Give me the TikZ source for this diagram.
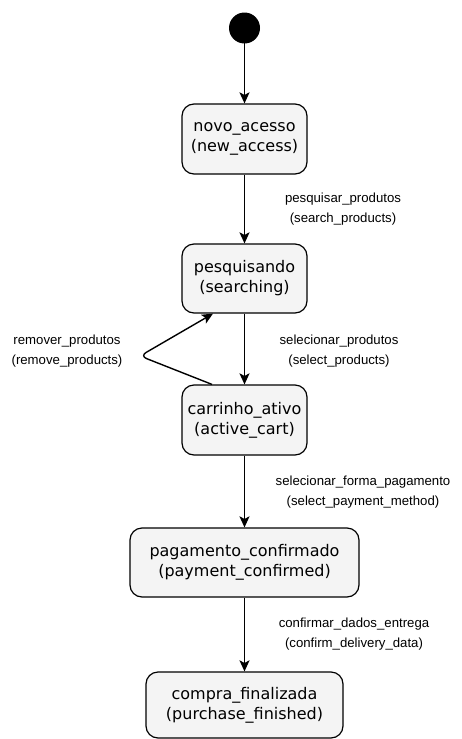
\documentclass[tikz,border=0pt]{standalone}
\usepackage{fontspec}
\setmainfont{DejaVu Sans}
\newfontfamily\labfont{Liberation Sans}
\usetikzlibrary{arrows.meta,calc}
\definecolor{boxfill}{HTML}{F4F4F4}
\tikzset{
  state/.style={draw=black, line width=1.2pt, fill=boxfill, rounded corners=12pt,
    align=center, font=\fontsize{16}{20}\selectfont, inner sep=0pt},
  trans/.style={line width=1.4pt, -{Stealth[length=11pt,width=10pt,inset=2.5pt]}},
  lab/.style={align=center, font=\labfont\fontsize{13.2}{20}\selectfont, inner sep=0pt}
}
\begin{document}
\begin{tikzpicture}[x=1pt,y=-1pt]
\useasboundingbox (0,0) rectangle (461,739);
\node[circle, fill=black, minimum size=31pt, inner sep=0pt] (init) at (244.5,28) {};
\node[state, minimum width=125pt, minimum height=70pt] (novo) at (244.5,139) {novo\_acesso\\(new\_access)};
\node[state, minimum width=125pt, minimum height=69pt] (pesq) at (244.5,278.5) {pesquisando\\(searching)};
\node[state, minimum width=125pt, minimum height=70pt] (cart) at (244.5,420) {carrinho\_ativo\\(active\_cart)};
\node[state, minimum width=229pt, minimum height=69pt] (pag) at (244.5,562.5) {pagamento\_confirmado\\(payment\_confirmed)};
\node[state, minimum width=197pt, minimum height=66pt] (compra) at (244.5,705) {compra\_finalizada\\(purchase\_finished)};

\draw[trans] ([yshift=5pt]init.south) -- (novo.north);
\draw[trans] (novo.south) -- (pesq.north);
\draw[trans] (pesq.south) -- (cart.north);
\draw[trans] (cart.south) -- (pag.north);
\draw[trans] (pag.south) -- (compra.north);

\coordinate (bend) at (140,356);
\draw[trans, rounded corners=7pt] ([xshift=-32.5pt]cart.north) -- (bend) -- ([xshift=-31.5pt]pesq.south);

\node[lab] (l1) at (343,209.5) {pesquisar\_produtos\\(search\_products)};
\node[lab] (l2) at (339,351) {selecionar\_produtos\\(select\_products)};
\node[lab] (l3) at (67,351) {remover\_produtos\\(remove\_products)};
\node[lab] (l4) at (363,492) {selecionar\_forma\_pagamento\\(select\_payment\_method)};
\node[lab] (l5) at (354,634.5) {confirmar\_dados\_entrega\\(confirm\_delivery\_data)};
\end{tikzpicture}
\end{document}
